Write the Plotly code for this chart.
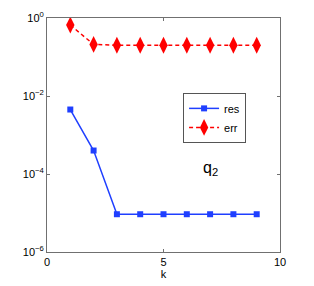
import plotly.graph_objects as go

k = [1, 2, 3, 4, 5, 6, 7, 8, 9]
res = [4.5e-3, 4.0e-4, 9.3e-6, 9.3e-6, 9.3e-6, 9.3e-6, 9.3e-6, 9.3e-6, 9.3e-6]
err = [0.66, 0.21, 0.20, 0.20, 0.20, 0.20, 0.20, 0.20, 0.20]
ytick_vals = [1e0, 1e-2, 1e-4, 1e-6]
ytick_text = ["10<sup>0</sup>", "10<sup>−2</sup>", "10<sup>−4</sup>", "10<sup>−6</sup>"]
xtick_vals = [0, 5, 10]

fig = go.Figure()
fig.add_trace(go.Scatter(x=k, y=res, name="res", mode="lines+markers",
                         line=dict(color="#1f3fff", width=1.5),
                         marker=dict(symbol="square", size=6, color="#1f3fff")))
fig.add_trace(go.Scatter(x=k, y=err, name="err", mode="lines+markers",
                         line=dict(color="#ff0000", width=1.5, dash="4px,3px"),
                         marker=dict(symbol="diamond-tall", size=12, color="#ff0000")))

fig.add_annotation(x=7.0, y=-3.87, xref="x", yref="y", text="q<sub>2</sub>",
                   showarrow=False, font=dict(size=16, color="black"))

axis_common = dict(showline=True, linecolor="#707070", linewidth=1, mirror="allticks",
                   ticks="inside", ticklen=3, tickcolor="#707070", showgrid=False,
                   zeroline=False, automargin=False, tickfont=dict(size=11, color="black"))
fig.update_xaxes(range=[0, 10], tickvals=xtick_vals,
                 title=dict(text="k", standoff=0, font=dict(size=11, color="black")),
                 **axis_common)
fig.update_yaxes(type="log", range=[-6, 0], tickvals=ytick_vals, ticktext=ytick_text,
                 **axis_common)

fig.update_layout(width=314, height=286, margin=dict(l=39, r=42, t=10, b=42),
                  paper_bgcolor="white", plot_bgcolor="white",
                  font=dict(family="Liberation Sans, Arial, sans-serif", size=11, color="black"),
                  legend=dict(x=0.584, y=0.68, xanchor="left", yanchor="top",
                              bordercolor="#555555", borderwidth=1, bgcolor="white",
                              font=dict(size=11), itemwidth=30, tracegroupgap=2))
fig.write_html("out.html")
